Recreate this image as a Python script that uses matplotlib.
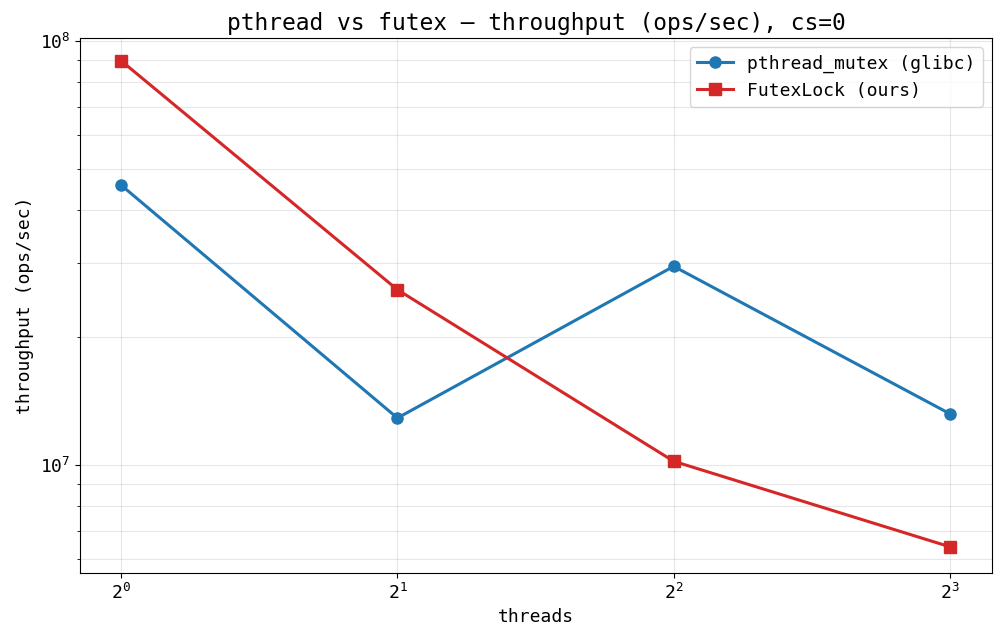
import numpy as np
import matplotlib.pyplot as plt

plt.rcParams['font.family'] = ['DejaVu Sans Mono']

threads = [1, 2, 4, 8]
pthread_ops = [4.57e7, 1.29e7, 2.94e7, 1.32e7]
futex_ops = [8.98e7, 2.59e7, 1.02e7, 6.41e6]

fig = plt.figure(figsize=(10.04, 6.41), dpi=100)
ax = fig.add_axes([80 / 1004, 1 - 573 / 641, (992 - 80) / 1004, (573 - 38) / 641])

ax.plot(threads, pthread_ops, 'o-', color='#1f77b4', lw=2.2, ms=8, label='pthread_mutex (glibc)')
ax.plot(threads, futex_ops, 's-', color='#d62728', lw=2.2, ms=8, label='FutexLock (ours)')

ax.set_xscale('log', base=2)
ax.set_yscale('log')
ax.set_xlim(0.902, 8.89)
ax.set_ylim(5.56e6, 1.016e8)
ax.grid(True, which='both', alpha=0.3)
ax.tick_params(labelsize=13)

ax.set_xlabel('threads', fontsize=13)
ax.set_ylabel('throughput (ops/sec)', fontsize=13)
ax.set_title('pthread vs futex — throughput (ops/sec), cs=0', fontsize=16.5)
ax.legend(fontsize=13)

fig.savefig('out.png', dpi=100)
